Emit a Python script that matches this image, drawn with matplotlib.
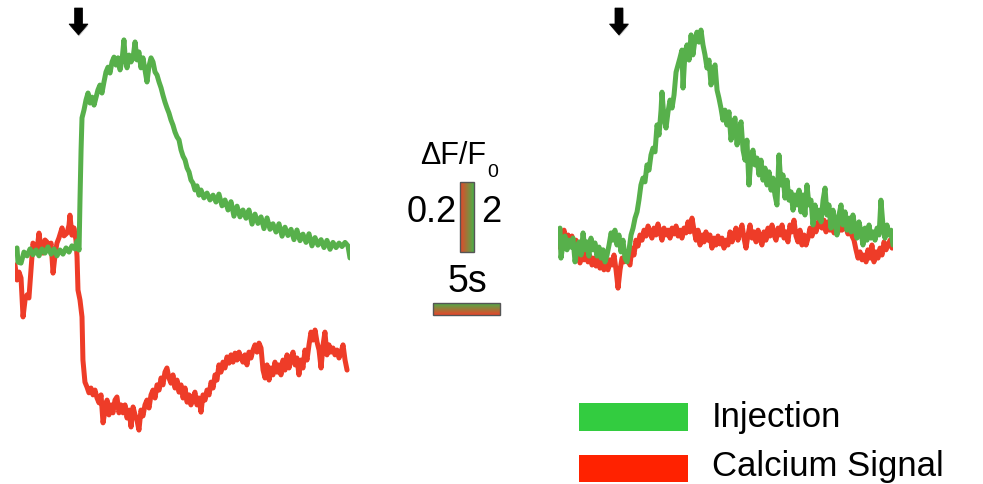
import numpy as np
import matplotlib
matplotlib.use("Agg")
import matplotlib.pyplot as plt
from matplotlib.patches import Polygon, Rectangle
from matplotlib.colors import to_rgb

# ---------------- data (time in s, values in dF/F0) ----------------
left_green_t = [0.15,0.22,0.45,0.67,0.90,1.12,1.34,1.57,1.79,2.01,
                2.24,2.46,2.69,2.91,3.13,3.36,3.58,3.81,4.03,4.25,
                4.48,4.63,4.78,4.85,4.93,5.00,5.15,5.30,5.45,5.60,
                5.75,5.90,6.04,6.19,6.34,6.49,6.64,6.79,6.94,7.09,
                7.24,7.39,7.54,7.69,7.84,7.99,8.13,8.21,8.36,8.51,
                8.66,8.81,8.96,9.10,9.25,9.40,9.55,9.70,9.85,10.00,
                10.15,10.30,10.45,10.60,10.75,10.90,11.04,11.19,11.34,11.49,
                11.64,11.79,11.94,12.09,12.24,12.39,12.54,12.69,12.84,12.99,
                13.13,13.28,13.43,13.58,13.73,13.88,14.10,14.33,14.55,14.78,
                15.00,15.22,15.45,15.67,15.90,16.12,16.34,16.57,16.79,17.01,
                17.24,17.46,17.69,17.91,18.13,18.36,18.58,18.81,19.03,19.25,
                19.48,19.70,19.93,20.15,20.37,20.60,20.82,21.04,21.27,21.49,
                21.72,21.94,22.16,22.39,22.61,22.84,23.06,23.28,23.51,23.73,
                23.96,24.18,24.40,24.63,24.85,25.00]
left_green_v = [0.06,-0.35,-0.38,-0.06,-0.17,0.03,-0.14,0.0,-0.17,0.03,
                -0.09,0.09,-0.12,0.03,-0.17,0.0,-0.12,0.06,-0.06,0.12,
                0.03,0.26,0.0,1.45,2.90,3.83,4.06,4.35,4.55,4.26,
                4.43,4.20,4.41,4.64,4.78,4.55,4.87,5.16,5.30,5.13,
                5.45,5.59,5.36,5.57,5.22,5.51,6.09,5.65,5.28,5.65,
                5.45,5.57,6.03,5.51,5.74,5.28,5.57,5.22,4.87,5.33,
                5.57,5.45,5.16,5.07,4.87,4.70,4.49,4.29,4.12,3.97,
                3.77,3.62,3.42,3.28,3.19,2.90,2.72,2.61,2.38,2.26,
                2.03,1.94,1.74,1.86,1.59,1.74,1.51,1.65,1.45,1.59,
                1.39,1.62,1.28,1.45,1.16,1.40,0.98,1.27,0.96,1.16,
                0.92,1.16,0.75,1.04,0.77,0.96,0.62,0.93,0.60,0.76,
                0.52,0.76,0.40,0.66,0.42,0.60,0.30,0.58,0.27,0.46,
                0.22,0.47,0.12,0.36,0.14,0.30,0.07,0.28,0.02,0.22,
                0.07,0.20,0.10,0.22,0.12,-0.23]

left_red_t = [0.00,0.15,0.30,0.45,0.60,0.75,0.90,1.04,1.19,1.34,
              1.49,1.64,1.79,1.94,2.09,2.24,2.39,2.54,2.69,2.84,
              2.99,3.13,3.28,3.51,3.66,3.88,4.03,4.10,4.25,4.40,
              4.55,4.63,4.70,4.85,5.00,5.07,5.22,5.37,5.52,5.67,
              5.82,5.97,6.12,6.27,6.42,6.57,6.72,6.87,7.01,7.16,
              7.31,7.46,7.61,7.76,7.91,8.06,8.21,8.36,8.51,8.66,
              8.81,8.96,9.10,9.25,9.40,9.55,9.70,9.85,10.00,10.15,
              10.30,10.45,10.60,10.75,10.90,11.04,11.19,11.34,11.49,11.64,
              11.79,11.94,12.09,12.24,12.39,12.54,12.69,12.84,12.99,13.13,
              13.28,13.43,13.58,13.73,13.88,14.03,14.18,14.33,14.48,14.63,
              14.78,14.93,15.07,15.22,15.37,15.52,15.67,15.82,15.97,16.12,
              16.27,16.42,16.57,16.72,16.87,17.01,17.16,17.31,17.46,17.61,
              17.76,17.91,18.06,18.21,18.36,18.51,18.66,18.81,18.96,19.10,
              19.25,19.40,19.55,19.70,19.85,20.00,20.15,20.30,20.45,20.60,
              20.75,20.90,21.04,21.19,21.34,21.49,21.64,21.79,21.94,22.09,
              22.24,22.39,22.54,22.69,22.84,22.99,23.13,23.28,23.43,23.58,
              23.73,23.88,24.03,24.18,24.33,24.48,24.63,24.78]
left_red_v = [-0.043,-0.087,-0.064,-0.081,-0.194,-0.145,-0.130,-0.139,-0.058,0.020,
              0.006,0.0,0.049,0.006,-0.009,0.029,0.023,0.0,0.020,-0.067,
              -0.014,0.020,0.035,0.064,0.041,0.049,0.072,0.101,0.043,0.064,
              0.029,-0.020,-0.116,-0.145,-0.194,-0.319,-0.383,-0.397,-0.414,-0.400,
              -0.420,-0.406,-0.429,-0.443,-0.420,-0.501,-0.464,-0.435,-0.478,-0.449,
              -0.472,-0.435,-0.426,-0.472,-0.449,-0.472,-0.449,-0.487,-0.464,-0.513,
              -0.455,-0.478,-0.493,-0.522,-0.464,-0.481,-0.449,-0.435,-0.458,-0.420,
              -0.406,-0.429,-0.391,-0.406,-0.371,-0.391,-0.354,-0.342,-0.371,-0.386,
              -0.362,-0.400,-0.377,-0.412,-0.391,-0.429,-0.400,-0.441,-0.420,-0.449,
              -0.429,-0.412,-0.449,-0.429,-0.470,-0.420,-0.435,-0.406,-0.420,-0.383,
              -0.400,-0.362,-0.377,-0.333,-0.354,-0.325,-0.342,-0.310,-0.328,-0.304,
              -0.325,-0.299,-0.319,-0.296,-0.313,-0.325,-0.304,-0.333,-0.296,-0.313,
              -0.290,-0.275,-0.296,-0.270,-0.284,-0.348,-0.371,-0.333,-0.377,-0.342,
              -0.362,-0.325,-0.354,-0.333,-0.362,-0.319,-0.348,-0.304,-0.342,-0.313,
              -0.296,-0.333,-0.313,-0.362,-0.319,-0.342,-0.290,-0.319,-0.275,-0.238,
              -0.261,-0.232,-0.267,-0.290,-0.342,-0.275,-0.238,-0.304,-0.275,-0.296,
              -0.284,-0.304,-0.290,-0.313,-0.296,-0.275,-0.319,-0.348]

right_green_t = [0.15,0.22,0.37,0.52,0.67,0.82,0.97,1.12,1.27,1.42,
                 1.57,1.72,1.87,2.01,2.16,2.31,2.46,2.61,2.76,2.91,
                 3.06,3.21,3.36,3.51,3.66,3.81,3.96,4.10,4.25,4.40,
                 4.55,4.70,4.85,5.00,5.15,5.30,5.45,5.60,5.75,5.90,
                 6.04,6.19,6.34,6.49,6.64,6.79,6.94,7.09,7.24,7.39,
                 7.54,7.69,7.76,7.91,8.06,8.21,8.36,8.51,8.66,8.81,
                 8.96,9.10,9.25,9.33,9.48,9.63,9.78,9.93,10.07,10.22,
                 10.37,10.52,10.67,10.82,10.97,11.12,11.27,11.42,11.57,11.72,
                 11.87,12.01,12.16,12.31,12.46,12.61,12.76,12.91,13.06,13.21,
                 13.36,13.51,13.66,13.81,13.96,14.10,14.25,14.40,14.55,14.70,
                 14.85,15.00,15.15,15.30,15.45,15.60,15.75,15.90,16.04,16.19,
                 16.34,16.49,16.64,16.79,16.94,17.09,17.24,17.39,17.54,17.69,
                 17.84,17.99,18.13,18.28,18.43,18.58,18.73,18.88,19.03,19.18,
                 19.33,19.48,19.63,19.78,19.93,20.07,20.22,20.37,20.52,20.67,
                 20.82,20.97,21.12,21.27,21.42,21.57,21.72,21.87,22.01,22.16,
                 22.31,22.46,22.61,22.76,22.91,23.06,23.21,23.36,23.51,23.66,
                 23.81,23.96,24.10,24.25,24.40,24.55,24.70,24.85,25.00]
right_green_v = [0.49,-0.38,0.0,0.26,-0.14,0.14,-0.06,0.20,-0.49,-0.14,
                 0.09,-0.29,0.35,-0.14,0.09,-0.32,0.20,-0.14,0.06,-0.32,
                 -0.06,-0.38,-0.14,-0.49,-0.29,0.0,0.35,0.14,0.43,0.0,
                 0.29,-0.20,0.14,-0.38,-0.49,-0.14,0.29,0.49,0.78,0.96,
                 1.30,1.74,1.94,1.83,2.32,2.17,2.61,2.81,2.70,3.48,
                 3.19,3.91,4.43,3.68,3.39,3.86,4.20,3.97,4.35,5.01,
                 5.22,5.42,5.65,4.55,5.59,5.80,5.36,6.09,5.51,5.94,
                 6.17,5.88,6.23,5.80,5.51,5.13,5.36,4.64,5.07,5.22,
                 4.49,4.26,3.97,3.62,3.91,3.48,3.86,3.04,3.48,3.68,
                 2.90,3.33,3.57,2.75,2.46,3.04,1.74,2.52,2.75,2.32,
                 2.52,2.03,2.46,1.88,2.23,1.74,2.12,1.59,1.94,1.45,
                 1.16,2.61,1.74,2.03,1.36,1.88,1.30,1.54,1.01,1.45,
                 1.16,1.59,0.96,1.45,0.87,1.74,1.16,1.30,0.58,1.16,
                 0.78,1.01,0.67,1.30,1.65,0.87,1.16,0.49,1.01,0.67,
                 0.29,0.87,1.16,0.58,0.96,0.43,0.78,0.38,0.87,0.49,
                 0.20,0.67,0.38,0.0,0.49,0.14,0.58,0.20,0.38,0.14,
                 0.49,0.29,1.30,0.58,0.20,0.58,0.29,0.43,0.0]

right_red_t = [0.00,0.15,0.30,0.45,0.60,0.75,0.90,1.04,1.19,1.34,
               1.49,1.64,1.79,1.94,2.09,2.24,2.39,2.54,2.69,2.84,
               2.99,3.13,3.28,3.43,3.58,3.73,3.88,4.03,4.18,4.33,
               4.48,4.63,4.78,4.93,5.07,5.22,5.37,5.52,5.67,5.82,
               5.97,6.12,6.27,6.42,6.57,6.72,6.87,7.01,7.16,7.31,
               7.46,7.61,7.76,7.91,8.06,8.21,8.36,8.51,8.66,8.81,
               8.96,9.10,9.25,9.40,9.55,9.70,9.85,10.00,10.15,10.30,
               10.45,10.60,10.75,10.90,11.04,11.19,11.34,11.49,11.64,11.79,
               11.94,12.09,12.24,12.39,12.54,12.69,12.84,12.99,13.13,13.28,
               13.43,13.58,13.73,13.88,14.03,14.18,14.33,14.48,14.63,14.78,
               14.93,15.07,15.22,15.37,15.52,15.67,15.82,15.97,16.12,16.27,
               16.42,16.57,16.72,16.87,17.01,17.16,17.31,17.46,17.61,17.76,
               17.91,18.06,18.21,18.36,18.51,18.66,18.81,18.96,19.10,19.25,
               19.40,19.55,19.70,19.85,20.00,20.15,20.30,20.45,20.60,20.75,
               20.90,21.04,21.19,21.34,21.49,21.64,21.79,21.94,22.09,22.24,
               22.39,22.54,22.69,22.84,22.99,23.13,23.28,23.43,23.58,23.73,
               23.88,24.03,24.18,24.33,24.48,24.63,24.78,24.93]
right_red_v = [-0.006,0.038,0.020,0.043,0.0,0.029,0.009,0.026,-0.009,0.014,
               -0.029,-0.052,-0.029,-0.043,-0.020,-0.049,-0.032,-0.058,-0.038,-0.061,
               -0.043,-0.067,-0.049,-0.072,-0.055,-0.072,-0.043,-0.058,-0.029,-0.072,
               -0.125,-0.072,-0.038,-0.049,-0.020,-0.043,-0.058,-0.009,-0.029,0.014,
               -0.003,0.029,0.014,0.043,0.026,0.055,0.035,0.020,0.049,0.029,
               0.061,0.038,0.014,0.049,0.029,0.043,0.020,0.049,0.032,0.055,
               0.026,0.043,0.020,0.049,0.035,0.067,0.038,0.078,0.043,0.014,
               0.043,0.0,0.029,0.009,0.038,0.014,0.029,-0.009,0.020,0.0,
               0.026,0.003,0.020,-0.009,0.014,0.0,0.038,0.009,0.029,0.049,
               0.014,0.038,0.058,0.020,-0.009,0.029,0.058,0.020,0.038,0.009,
               0.043,0.020,0.0,0.038,0.014,0.049,0.026,0.058,0.029,0.014,
               0.049,0.029,0.058,0.020,0.038,0.009,0.058,0.038,0.072,0.026,
               0.009,0.043,0.0,0.029,0.0,0.020,0.049,0.026,0.067,0.038,
               0.058,0.087,0.049,0.072,0.038,0.067,0.043,0.058,0.035,0.055,
               0.038,0.058,0.043,0.067,0.049,0.032,0.049,0.026,0.014,-0.014,
               -0.038,-0.020,-0.043,-0.029,-0.049,-0.014,-0.038,0.0,-0.049,-0.020,
               -0.038,-0.009,-0.029,0.009,-0.014,0.0,0.014,-0.009]

stim_times = [4.74, 4.55]          # arrow positions (s)
scale_time = 5                     # s
scale_green = 2                    # dF/F0
scale_red = 0.2                    # dF/F0
legend_labels = ["Injection", "Calcium Signal"]

# ---------------- styling / layout ----------------
W, H = 983, 484
GREEN = "#57B04B"
RED = "#EE3C28"
LEG_GREEN = "#33CC40"
LEG_RED = "#FF2200"
FONT = ["Liberation Sans", "DejaVu Sans"]
LW = 3.6

SEC_PX = 67.0 / scale_time       # pixels per second
GREEN_PX = 69.0 / scale_green    # pixels per dF/F0 (green)
RED_PX = 69.0 / scale_red        # pixels per dF/F0 (red)
DURATION = 25.0

fig = plt.figure(figsize=(W / 100, H / 100), dpi=100)
fig.patch.set_facecolor("white")


def panel(left_px, base_px, tg, vg, tr, vr):
    rect = [left_px / W, 0, DURATION * SEC_PX / W, 1]
    axr = fig.add_axes(rect)
    axg = fig.add_axes(rect)
    for a in (axr, axg):
        a.set_xlim(0, DURATION)
        a.axis("off")
        a.patch.set_alpha(0)
    axg.set_ylim((base_px - H) / GREEN_PX, base_px / GREEN_PX)
    axr.set_ylim((base_px - H) / RED_PX, base_px / RED_PX)
    axr.plot(tr, vr, color=RED, lw=LW, solid_joinstyle="round", solid_capstyle="round")
    axg.plot(tg, vg, color=GREEN, lw=LW, solid_joinstyle="round", solid_capstyle="round")


panels = [(15, 250, left_green_t, left_green_v, left_red_t, left_red_v),
          (558, 245, right_green_t, right_green_v, right_red_t, right_red_v)]
for p in panels:
    panel(*p)

# overlay axes in pixel coordinates for annotations
ov = fig.add_axes([0, 0, 1, 1])
ov.set_xlim(0, W)
ov.set_ylim(H, 0)
ov.axis("off")
ov.patch.set_alpha(0)

# stimulus arrows
for (left_px, *_), st in zip(panels, stim_times):
    cx = left_px + st * SEC_PX
    shape = [(cx - 4, 8), (cx + 4, 8), (cx + 4, 24), (cx + 9.5, 24),
             (cx, 35), (cx - 9.5, 24), (cx - 4, 24)]
    shadow = [(x + 0.5, y + 1.5) for x, y in shape]
    ov.add_patch(Polygon(shadow, closed=True, facecolor="#999999", edgecolor="none", alpha=0.5))
    ov.add_patch(Polygon(shape, closed=True, facecolor="black", edgecolor="black", lw=0.5))

# scale bars with red/green gradients
r = np.array(to_rgb("#E8452A"))
g = np.array(to_rgb("#4CAF48"))
n = 64
frac = np.linspace(0, 1, n)[:, None]
grad = (1 - frac) * r + frac * g
ov.imshow(grad[None, :, :], extent=(460, 474, 252, 182), origin="upper",
          aspect="auto", interpolation="bilinear", zorder=2)
ov.add_patch(Rectangle((460, 182), 14, 70, fill=False, edgecolor="#555555", lw=1.0, zorder=3))
ov.imshow(grad[::-1][:, None, :], extent=(433, 500, 315, 303), origin="upper",
          aspect="auto", interpolation="bilinear", zorder=2)
ov.add_patch(Rectangle((433, 303), 67, 12, fill=False, edgecolor="#555555", lw=1.0, zorder=3))
ov.set_xlim(0, W)
ov.set_ylim(H, 0)

t_df = ov.text(420, 164, "\u0394F/F", fontsize=22, family=FONT, ha="left", va="baseline")
ov.annotate("0", xy=(1, 0), xycoords=t_df, xytext=(1, -4), textcoords="offset points",
            fontsize=14, family=FONT, ha="left", va="baseline")
ov.text(457, 222, "0.2", fontsize=26, family=FONT, ha="right", va="baseline")
ov.text(481, 222, "2", fontsize=26, family=FONT, ha="left", va="baseline")
ov.text(467, 292, "5s", fontsize=27, family=FONT, ha="center", va="baseline")

# legend
ov.add_patch(Rectangle((579, 403), 109, 28, facecolor=LEG_GREEN, edgecolor="none"))
ov.add_patch(Rectangle((579, 455), 109, 27, facecolor=LEG_RED, edgecolor="none"))
ov.text(712, 427, legend_labels[0], fontsize=25, family=FONT, ha="left", va="baseline")
ov.text(712, 476, legend_labels[1], fontsize=25, family=FONT, ha="left", va="baseline")

fig.savefig("out.png", dpi=100, facecolor="white")
